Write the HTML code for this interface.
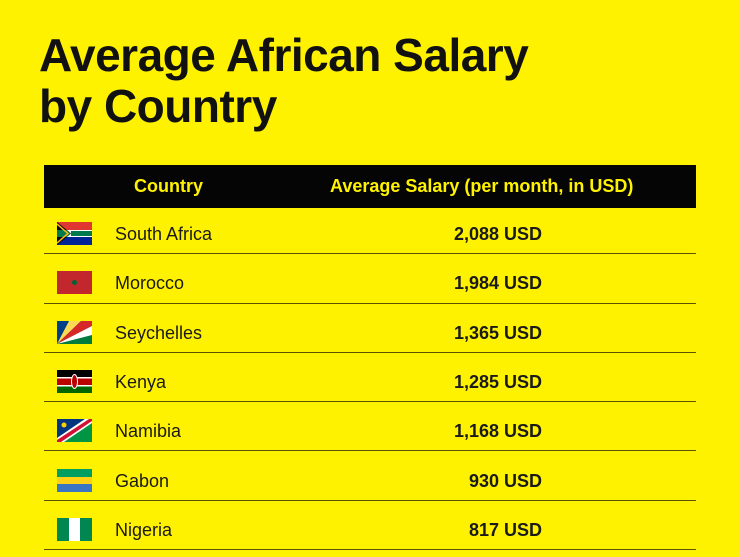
<!DOCTYPE html>
<html><head><meta charset="utf-8"><style>
body{margin:0;width:740px;height:557px;background:#fff200;font-family:"Liberation Sans",sans-serif;overflow:hidden;position:relative}
h1{position:absolute;left:39px;top:30px;margin:0;font-size:46px;line-height:51px;font-weight:bold;color:#111;letter-spacing:-0.5px}
.hdr{position:absolute;left:44px;top:165px;width:652px;height:43px;background:#050505;color:#fff200;font-weight:bold;font-size:18px}
.hdr span{position:absolute;top:11px}
.row{position:absolute;left:44px;width:652px;height:48.3px;border-bottom:1px solid #5a5200;color:#1a1a1a;font-size:18px}
.row .name{position:absolute;left:71px;top:19px}
.row .val{position:absolute;right:154px;top:19px;font-weight:bold}
.row svg{position:absolute;left:13px;top:17px}
</style></head><body>
<h1>Average African Salary<br>by Country</h1>
<div class="hdr"><span style="left:90px">Country</span><span style="left:286px">Average Salary (per month, in USD)</span></div>
<div id="rows"></div>
<script>
const countries=["South Africa","Morocco","Seychelles","Kenya","Namibia","Gabon","Nigeria"];
const salaries=[2088,1984,1365,1285,1168,930,817];
const flags=[
'<rect width="35" height="23" fill="#fff"/><rect width="35" height="8" fill="#de3831"/><rect y="15" width="35" height="8" fill="#002395"/><path d="M0 0L14 11.5L0 23Z" fill="#000"/><path d="M0 8h10l4 3.5l-4 3.5H0z" fill="#007a4d"/><path d="M14 9h21v5H14z" fill="#007a4d"/><path d="M0 2L11 11.5L0 21" fill="none" stroke="#ffb612" stroke-width="1.5"/>',
'<rect width="35" height="23" fill="#c1272d"/><circle cx="17.5" cy="11.5" r="2.5" fill="#006233"/>',
'<rect width="35" height="23" fill="#007a3d"/><path d="M0 23L0 0H12Z" fill="#003f87"/><path d="M0 23L12 0H24Z" fill="#fcd856"/><path d="M0 23L24 0H35V5Z" fill="#d62828"/><path d="M0 23L35 5V14Z" fill="#fff"/>',
'<rect width="35" height="23" fill="#000"/><rect y="8" width="35" height="7" fill="#bb0000"/><rect y="16" width="35" height="7" fill="#006600"/><rect y="7" width="35" height="1.5" fill="#fff"/><rect y="15" width="35" height="1.5" fill="#fff"/><ellipse cx="17.5" cy="11.5" rx="3" ry="7" fill="#bb0000" stroke="#fff"/>',
'<rect width="35" height="23" fill="#009543"/><path d="M0 0H28L0 19Z" fill="#003580"/><path d="M0 23H7L35 4V0H28L0 19Z" fill="#fff"/><path d="M0 21L32 0H35V2L4 23H0Z" fill="#d21034"/><circle cx="7" cy="6" r="2.5" fill="#ffce00"/>',
'<rect width="35" height="23" fill="#009e60"/><rect y="8" width="35" height="7" fill="#fcd116"/><rect y="15" width="35" height="8" fill="#3a75c4"/>',
'<rect width="35" height="23" fill="#008751"/><rect x="12" width="11" height="23" fill="#fff"/>'];
const rows=document.getElementById('rows');
countries.forEach((c,i)=>{
 const r=document.createElement('div');r.className='row';r.style.top=(205+i*49.3)+'px';
 
 
 r.innerHTML='<svg width="35" height="23" viewBox="0 0 35 23">'+flags[i]+'</svg><span class="name">'+c+'</span><span class="val">'+salaries[i].toLocaleString('en-US')+' USD</span>';
 rows.appendChild(r);
});
</script>
</body></html>
